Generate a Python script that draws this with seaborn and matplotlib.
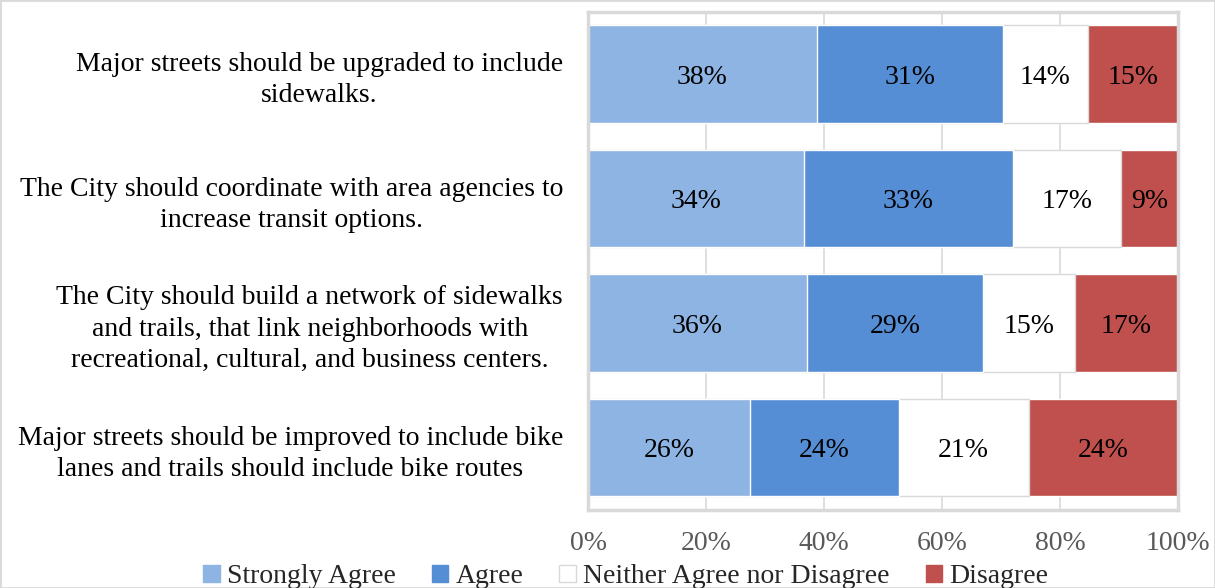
import numpy as np
import pandas as pd
import matplotlib
matplotlib.use("Agg")
import matplotlib.pyplot as plt
import seaborn as sns
from matplotlib.patches import Patch, Rectangle

questions = [
    "Major streets should be upgraded to include\nsidewalks.",
    "The City should coordinate with area agencies to\nincrease transit options.",
    "The City should build a network of sidewalks\nand trails, that link neighborhoods with\nrecreational, cultural, and business centers.",
    "Major streets should be improved to include bike\nlanes and trails should include bike routes",
]
strongly_agree = [38, 34, 36, 26]
agree = [31, 33, 29, 24]
neither = [14, 17, 15, 21]
disagree = [15, 9, 17, 24]
categories = ["Strongly Agree", "Agree", "Neither Agree nor Disagree", "Disagree"]
colors = ["#8EB4E3", "#558ED5", "#FFFFFF", "#C0504D"]
ticks = [0, 0.2, 0.4, 0.6, 0.8, 1.0]

sns.set_theme(style="white")
plt.rcParams['font.family'] = ['Liberation Serif', 'DejaVu Serif']
FS = 20

df = pd.DataFrame({"q": questions, categories[0]: strongly_agree, categories[1]: agree,
                   categories[2]: neither, categories[3]: disagree})
vals = df[categories].astype(float)
share = vals.div(vals.sum(axis=1), axis=0)
cum = share.cumsum(axis=1)

fig, ax = plt.subplots(figsize=(12.15, 5.88), dpi=100)
fig.subplots_adjust(left=0.484, right=0.9695, top=0.98, bottom=0.133)

# draw cumulative bars from the end back so they stack
for i in range(len(categories) - 1, -1, -1):
    ec = "#D9D9D9" if colors[i] == "#FFFFFF" else "white"
    sns.barplot(x=cum[categories[i]], y=df["q"], orient="h", color=colors[i],
                saturation=1, width=0.78, edgecolor=ec, linewidth=1, ax=ax, zorder=2)

# labels
for r in range(len(questions)):
    left = 0
    for i, c in enumerate(categories):
        w = share.loc[r, c]
        ax.text(left + w / 2, r, f"{int(vals.loc[r, c])}%", ha="center", va="center_baseline",
                fontsize=FS, color="black", zorder=3)
        left += w

ax.set_xlim(0, 1)
ax.set_ylim(3.5, -0.5)
ax.set_xticks(ticks)
ax.set_xticklabels([f"{int(t*100)}%" for t in ticks], fontsize=FS, color="#595959")
ax.set_yticks(range(len(questions)))
ax.set_yticklabels(questions, fontsize=FS, color="black", multialignment="center",
                   linespacing=1.33)
ax.tick_params(axis="both", length=0)
ax.tick_params(axis="y", pad=18)
ax.tick_params(axis="x", pad=15)
ax.set_xlabel("")
ax.set_ylabel("")
ax.xaxis.grid(True, color="#D9D9D9", linewidth=1.2, zorder=0)
ax.set_axisbelow(True)
for s in ax.spines.values():
    s.set_color("#D9D9D9")
    s.set_linewidth(2.5)

handles = [Patch(facecolor=colors[i], edgecolor="#D9D9D9" if colors[i] == "#FFFFFF" else colors[i],
                 label=categories[i]) for i in range(len(categories))]
fig.legend(handles=handles, loc="lower center", bbox_to_anchor=(0.515, -0.045), ncol=4,
           frameon=False, fontsize=FS, handlelength=0.6, handleheight=0.6,
           handletextpad=0.25, columnspacing=1.3)

fig.patches.append(Rectangle((0, 0), 1, 1, transform=fig.transFigure, fill=False,
                             edgecolor="#D9D9D9", linewidth=2))

plt.savefig("out.png", dpi=100)
